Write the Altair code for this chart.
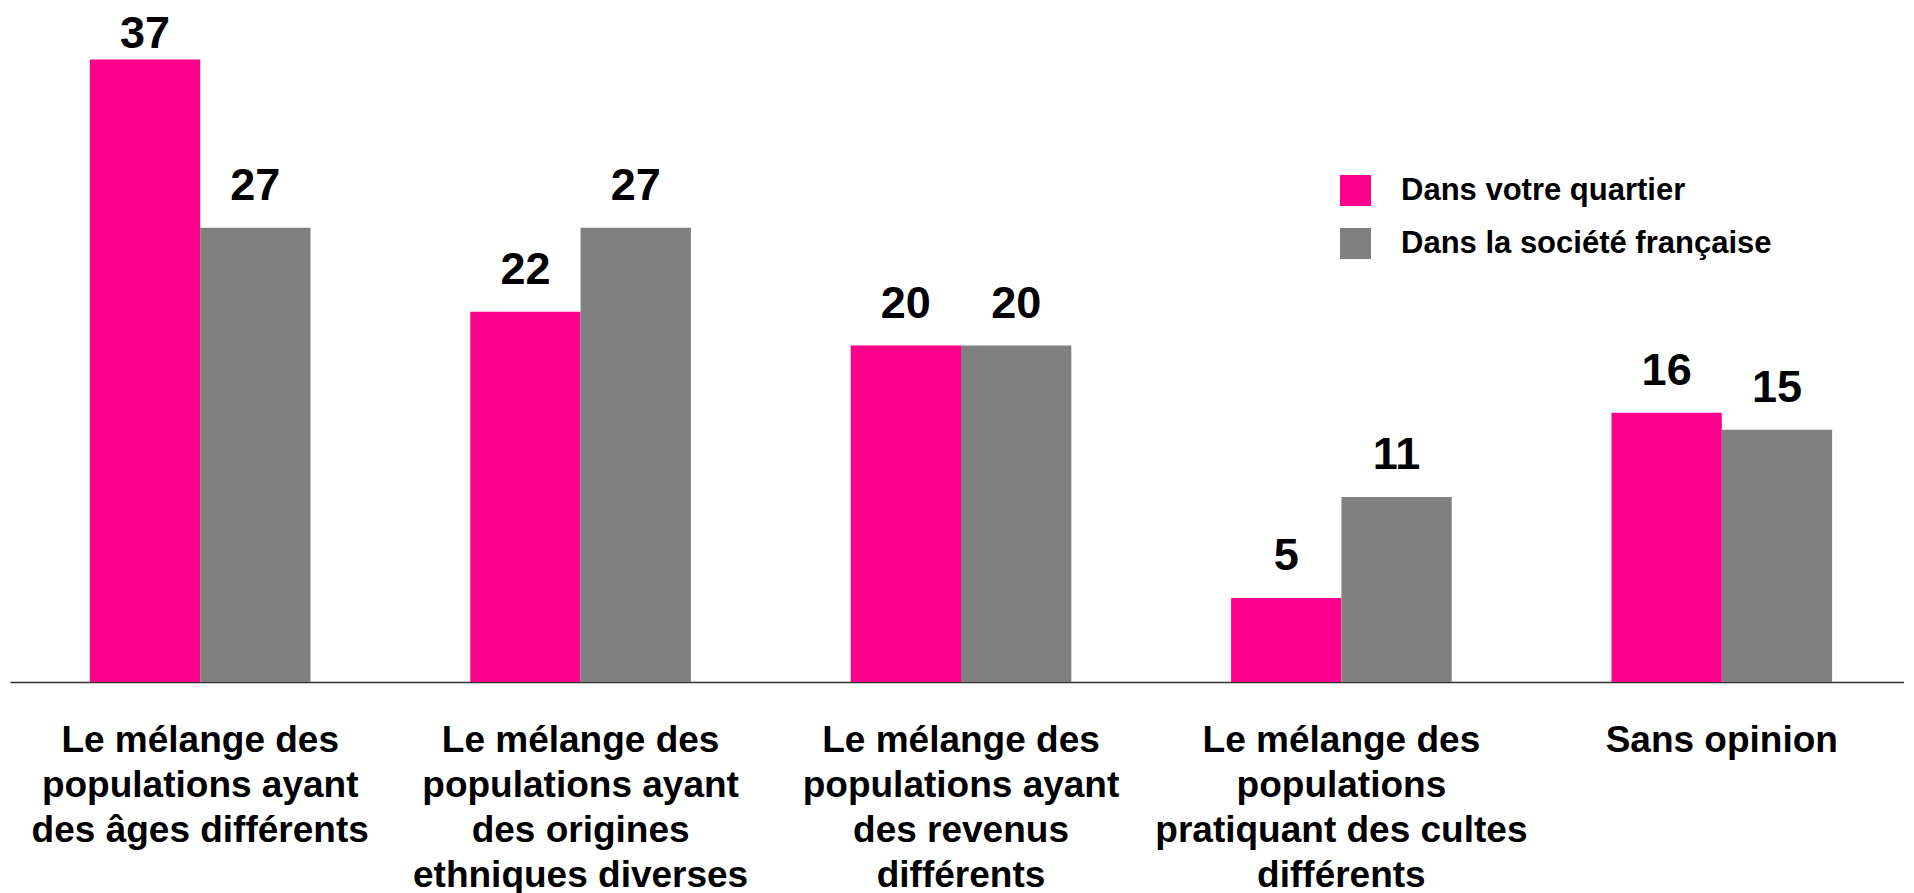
import altair as alt
import pandas as pd

# --- data ---
categories = [
    "Le mélange des|populations ayant|des âges différents",
    "Le mélange des|populations ayant|des origines|ethniques diverses",
    "Le mélange des|populations ayant|des revenus|différents",
    "Le mélange des|populations|pratiquant des cultes|différents",
    "Sans opinion",
]
series = ["Dans votre quartier", "Dans la société française"]
quartier = [37, 22, 20, 5, 16]
societe = [27, 27, 20, 11, 15]
colors = ["#FF008C", "#808080"]

rows = []
for c, q, s in zip(categories, quartier, societe):
    rows.append({"cat": c, "serie": series[0], "val": q})
    rows.append({"cat": c, "serie": series[1], "val": s})
df = pd.DataFrame(rows)

FONT = "Liberation Sans, Arial, sans-serif"

x_enc = alt.X(
    "cat:N",
    sort=categories,
    scale=alt.Scale(paddingInner=0.42, paddingOuter=0.21, range=[0, 1902]),
    axis=alt.Axis(
        title=None,
        labelExpr="split(datum.label, '|')",
        labelAngle=0,
        labelFont=FONT,
        labelFontSize=37,
        labelFontWeight="bold",
        labelColor="#000000",
        labelLineHeight=45,
        labelPadding=40,
        labelLimit=1000,
        labelOverlap=False,
        ticks=False,
        tickSize=0,
        domainColor="#333333",
        domainWidth=1.5,
        grid=False,
    ),
)
xo_enc = alt.XOffset("serie:N", sort=series)
y_scale = alt.Scale(domain=[0, 40])

bars = alt.Chart(df).mark_bar().encode(
    x=x_enc,
    xOffset=xo_enc,
    y=alt.Y("val:Q", scale=y_scale, axis=None),
    color=alt.Color(
        "serie:N",
        sort=series,
        scale=alt.Scale(domain=series, range=colors),
        legend=alt.Legend(
            title=None,
            orient="none",
            legendX=1330,
            legendY=166,
            symbolType="square",
            symbolSize=961,
            symbolStrokeWidth=0,
            symbolOpacity=1,
            labelFont=FONT,
            labelFontSize=31,
            labelFontWeight="bold",
            labelColor="#000000",
            labelBaseline="middle",
            labelOffset=30,
            rowPadding=21,
            padding=0,
            labelLimit=1000,
        ),
    ),
)

labels = (
    alt.Chart(df)
    .transform_calculate(pos="min(datum.val, 36.0)")
    .mark_text(
        font=FONT,
        fontSize=45,
        fontWeight="bold",
        color="#000000",
        baseline="alphabetic",
        dy=-28,
    )
    .encode(
        x=x_enc,
        xOffset=xo_enc,
        y=alt.Y("pos:Q", scale=y_scale, axis=None),
        text=alt.Text("val:Q"),
    )
)

chart = (
    alt.layer(bars, labels)
    .properties(
        width=1894,
        height=673,
        autosize=alt.AutoSizeParams(type="none"),
        padding={"left": 2, "top": 1, "right": 0, "bottom": 211},
        background="#ffffff",
    )
    .configure_view(stroke=None)
)

chart.save("out.html", embed_options={"renderer": "svg", "actions": False})
